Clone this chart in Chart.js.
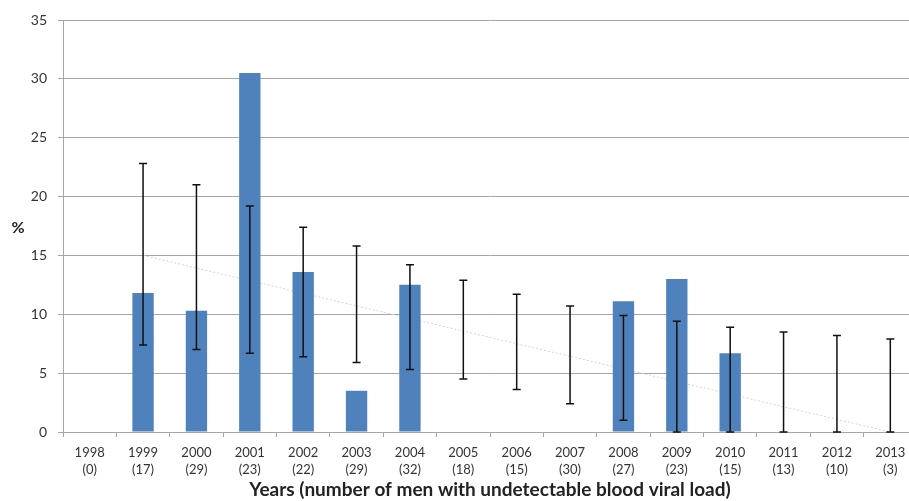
<!DOCTYPE html>
<html>
<head>
<meta charset="utf-8">
<script src="https://cdn.jsdelivr.net/npm/chart.js@4/dist/chart.umd.min.js"></script>
<style>
  html, body { margin: 0; padding: 0; background: #fff; overflow: hidden; }
  /* the plot in the figure runs a little past the right edge of the picture */
  #wrap { width: 918px; height: 501px; position: relative; }
</style>
</head>
<body>
<div id="wrap"><canvas id="viralChart"></canvas></div>
<script>
// data
const years = ['1998','1999','2000','2001','2002','2003','2004','2005','2006','2007','2008','2009','2010','2011','2012','2013'];
const menCounts = [0, 17, 29, 23, 22, 29, 32, 18, 15, 30, 27, 23, 15, 13, 10, 3];
const pctValues = [null, 11.8, 10.3, 30.5, 13.6, 3.5, 12.5, null, null, null, 11.1, 13.0, 6.7, null, null, null];
const errHigh = [null, 22.8, 21.0, 19.2, 17.4, 15.8, 14.2, 12.9, 11.7, 10.7, 9.9, 9.4, 8.9, 8.5, 8.2, 7.9];
const errLow  = [null, 7.4, 7.0, 6.7, 6.4, 5.9, 5.3, 4.5, 3.6, 2.4, 1.0, 0, 0, 0, 0, 0];
const trendValues = [null, 15, null, null, null, null, null, null, null, null, null, null, null, null, null, 0];
const yTicks = [0, 5, 10, 15, 20, 25, 30, 35];

const tickLabels = years.map((y, i) => [y, '(' + menCounts[i] + ')']);

// error bars with caps, placed through the chart scales
const errorBars = {
  id: 'errorBars',
  afterDatasetsDraw(chart) {
    const { ctx, scales: { x, y } } = chart;
    ctx.save();
    ctx.strokeStyle = '#111';
    ctx.lineWidth = 1.5;
    for (let i = 0; i < years.length; i++) {
      if (errHigh[i] == null) continue;
      const px = x.getPixelForValue(i);
      const top = y.getPixelForValue(errHigh[i]);
      const bot = y.getPixelForValue(errLow[i]);
      ctx.beginPath();
      ctx.moveTo(px, top); ctx.lineTo(px, bot);
      ctx.moveTo(px - 4, top); ctx.lineTo(px + 4, top);
      ctx.moveTo(px - 4, bot); ctx.lineTo(px + 4, bot);
      ctx.stroke();
    }
    ctx.restore();
  }
};

// horizontal "%" axis label
const pctLabel = {
  id: 'pctLabel',
  afterDraw(chart) {
    const { ctx, chartArea } = chart;
    ctx.save();
    ctx.font = 'bold 16px Lato';
    ctx.fillStyle = '#222';
    ctx.textAlign = 'center';
    ctx.textBaseline = 'middle';
    ctx.fillText('%', 18, (chartArea.top + chartArea.bottom) / 2 + 2);
    ctx.restore();
  }
};

new Chart(document.getElementById('viralChart').getContext('2d'), {
  type: 'bar',
  data: {
    labels: tickLabels,
    datasets: [{
      label: '%',
      data: pctValues,
      backgroundColor: '#4F81BD',
      borderWidth: 0,
      barPercentage: 0.4,
      categoryPercentage: 1,
      order: 1
    }, {
      type: 'line',
      label: 'trend',
      data: trendValues,
      spanGaps: true,
      borderColor: '#d4d4d4',
      borderWidth: 1,
      borderDash: [2, 2],
      pointRadius: 0,
      order: 2
    }]
  },
  options: {
    responsive: true,
    maintainAspectRatio: false,
    animation: false,
    layout: { padding: { top: 20, right: 1, left: 0, bottom: 0 } },
    plugins: { legend: { display: false }, tooltip: { enabled: false } },
    scales: {
      y: {
        min: 0, max: 35,
        afterFit: s => { s.width = 63; },
        afterBuildTicks: s => { s.ticks = yTicks.map(v => ({ value: v })); },
        border: { color: '#a6a6a6' },
        grid: { color: '#a6a6a6', tickLength: 5 },
        ticks: { color: '#333', font: { family: 'Lato', size: 14 }, padding: 11 }
      },
      x: {
        afterFit: s => { s.height = 69; },
        border: { color: '#a6a6a6' },
        grid: { color: '#a6a6a6', drawOnChartArea: false, tickLength: 5 },
        ticks: { color: '#333', font: { family: 'Lato', size: 13, lineHeight: 1.3 }, padding: 7, maxRotation: 0 },
        title: {
          display: true,
          text: 'Years (number of men with undetectable blood viral load)',
          color: '#222',
          font: { family: 'Lato', size: 19, weight: 'bold' },
          padding: { top: 0, bottom: 0 }
        }
      }
    }
  },
  plugins: [errorBars, pctLabel]
});
</script>
</body>
</html>
